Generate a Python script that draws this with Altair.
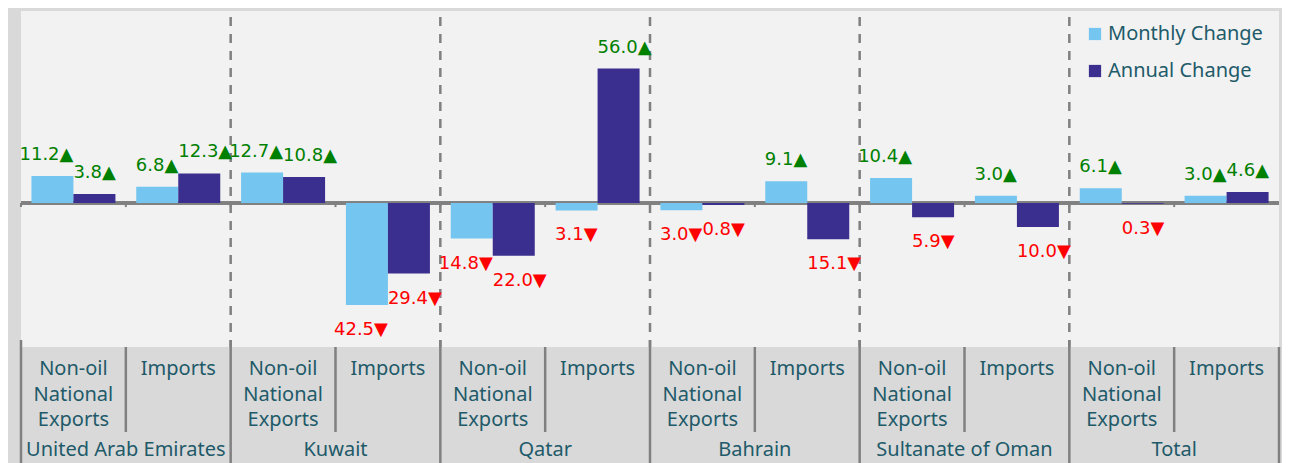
import altair as alt
import pandas as pd

countries = ["United Arab Emirates", "Kuwait", "Qatar", "Bahrain", "Sultanate of Oman", "Total"]
kinds = ["Non-oil\nNational\nExports", "Imports"]
series = ["Monthly Change", "Annual Change"]
monthly = [11.2, 6.8, 12.7, -42.5, -14.8, -3.1, -3.0, 9.1, 10.4, 3.0, 6.1, 3.0]
annual = [3.8, 12.3, 10.8, -29.4, -22.0, 56.0, -0.8, -15.1, -5.9, -10.0, -0.3, 4.6]

FONT = "Noto Sans"
LFONT = "DejaVu Sans"
TEAL = "#215a69"
GRID = "#808080"
W, H = 1258, 336
BW = 42

keys = [f"{c}|{k}" for c in countries for k in kinds]

rows = []
for i, key in enumerate(keys):
    rows.append({"key": key, "series": series[0], "value": monthly[i]})
    rows.append({"key": key, "series": series[1], "value": annual[i]})
df = pd.DataFrame(rows)
cats = pd.DataFrame({"key": keys,
                     "country": [k.split("|")[0] for k in keys],
                     "kind": [k.split("|")[1] for k in keys]})
cats["first"] = cats["kind"] == kinds[0]
cats["z"] = 0.0
cats["z2"] = -1.7

xs = alt.Scale(domain=keys, paddingInner=0, paddingOuter=0)
ys = alt.Scale(domain=[-60, 80], nice=False)
X = alt.X("key:N", scale=xs, axis=None)
XB0 = alt.X("key:N", scale=xs, bandPosition=0, axis=None)
Y = alt.Y("value:Q", scale=ys, axis=None)

color = alt.Color("series:N",
                  scale=alt.Scale(domain=series, range=["#74c6f0", "#3a2e8e"]),
                  legend=alt.Legend(title=None, orient="none", legendX=1064, legendY=13,
                                    symbolType="square", symbolSize=150, symbolStrokeWidth=0,
                                    labelFontSize=20, labelColor=TEAL, labelFont=FONT,
                                    labelOffset=3, rowPadding=17, padding=0))

cb = alt.Chart(cats)
panel = cb.transform_filter(
    f"datum.first && datum.country == '{countries[0]}'"
).mark_rect(color="#f2f2f2").encode(
    x=alt.value(0), x2=alt.value(W), y=alt.value(0), y2=alt.value(H))

layers = []
for s, off, al in zip(series, [-BW / 2, BW / 2], ["right", "left"]):
    sub = alt.Chart(df).transform_filter(f"datum.series == '{s}'")
    layers.append(sub.mark_bar(width=BW, xOffset=off).encode(x=X, y=Y, color=color))
    lab = sub.transform_calculate(
        label="format(abs(datum.value), '.1f') + (datum.value >= 0 ? '▲' : '▼')")
    # labels of the pair meet at the shared inner bar edge (the band centre)
    layers.append(lab.transform_filter("datum.value >= 0").mark_text(
        baseline="alphabetic", align=al, dy=-16, fontSize=18, font=LFONT,
        color="#008000"
    ).encode(x=X, y=Y, text="label:N"))
    layers.append(lab.transform_filter("datum.value < 0").mark_text(
        baseline="alphabetic", align=al, dy=30, fontSize=18, font=LFONT,
        color="#ff0000"
    ).encode(x=X, y=Y, text="label:N"))

zero = cb.mark_rule(color=GRID, strokeWidth=2.5).encode(
    y=alt.Y("z:Q", scale=ys, axis=None))
zticks = cb.mark_rule(color=GRID, strokeWidth=2).encode(
    x=XB0, y=alt.Y("z:Q", scale=ys, axis=None), y2="z2:Q")

dashed = cb.transform_filter(
    f"datum.first && datum.country != '{countries[0]}'"
).mark_rule(color=GRID, strokeWidth=2.5, strokeDash=[9, 8]).encode(
    x=XB0, y=alt.value(6), y2=alt.value(H))

sublines = cb.transform_filter("!datum.first").mark_rule(
    color=GRID, strokeWidth=2.5).encode(x=XB0, y=alt.value(H), y2=alt.value(H + 85))
ctrylines = cb.transform_filter("datum.first").mark_rule(
    color=GRID, strokeWidth=2.5).encode(x=XB0, y=alt.value(H - 7), y2=alt.value(H + 140))
endline = cb.transform_filter(
    f"!datum.first && datum.country == '{countries[-1]}'"
).mark_rule(color=GRID, strokeWidth=2.5).encode(
    x=alt.X("key:N", scale=xs, bandPosition=1, axis=None),
    y=alt.value(H), y2=alt.value(H + 140))

sublabels = cb.mark_text(
    baseline="top", fontSize=20, font=FONT, color=TEAL, lineBreak="\n", lineHeight=25.5
).encode(x=X, y=alt.value(H + 12), text="kind:N")
ctrylabels = cb.transform_filter("!datum.first").mark_text(
    baseline="middle", fontSize=20, font=FONT, color=TEAL
).encode(x=XB0, y=alt.value(H + 103), text="country:N")

chart = alt.layer(
    panel, zero, dashed, *layers, zticks, sublines, ctrylines, endline, sublabels, ctrylabels
).properties(
    width=W, height=H, background="#d9d9d9",
    padding={"left": 13, "top": 3, "right": 3, "bottom": 124},
    autosize=alt.AutoSizeParams(type="none"),
).configure(font=FONT).configure_view(strokeWidth=0)

chart.save("out.html", embed_options={"renderer": "svg", "actions": False})
